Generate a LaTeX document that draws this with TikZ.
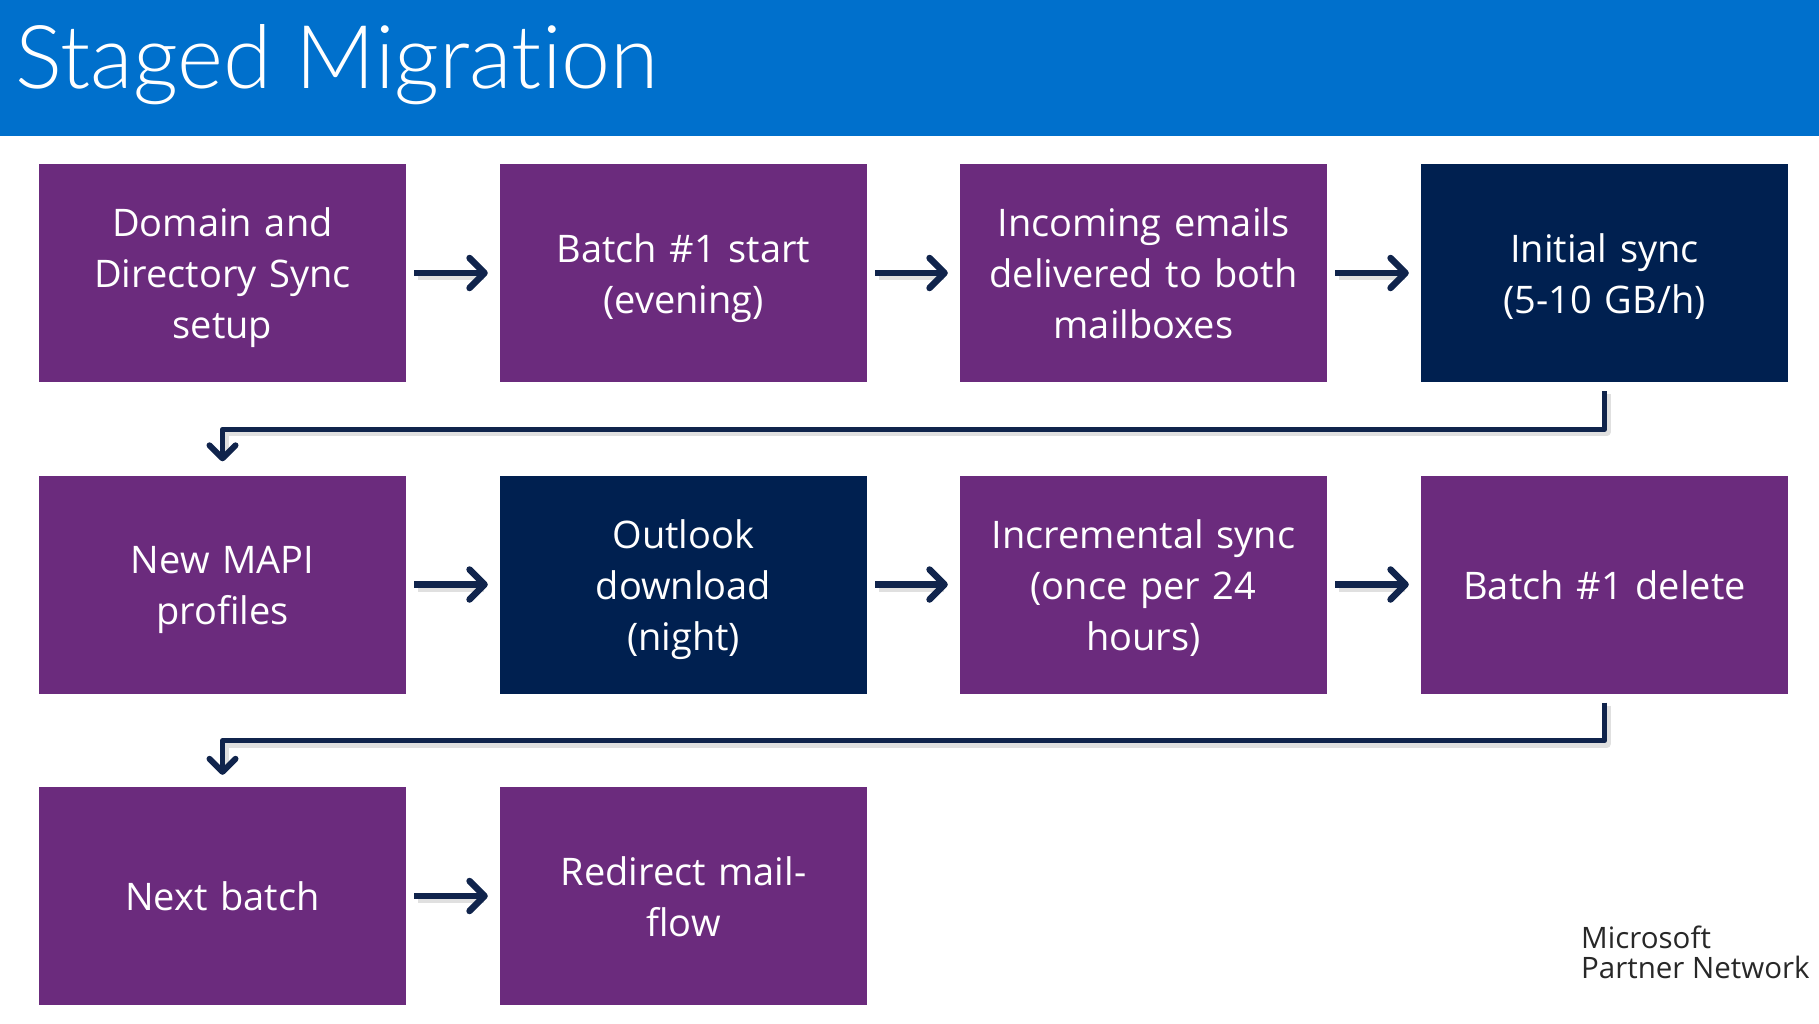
\documentclass[tikz,border=0pt]{standalone}
\usepackage{fontspec}
\setmainfont{Open Sans}
\newfontfamily\titlefont{Lato Light}[Ligatures=NoCommon]
\usetikzlibrary{arrows.meta,positioning}
\definecolor{hdrblue}{RGB}{0,112,204}
\definecolor{msPurple}{RGB}{107,43,125}
\definecolor{msNavy}{RGB}{0,32,80}
\definecolor{arrowNavy}{RGB}{16,36,76}
\definecolor{logoGray}{RGB}{40,40,40}
\tikzset{
  stepbox/.style={fill=msPurple, minimum width=367pt, minimum height=218pt, inner sep=0pt},
  darkbox/.style={stepbox, fill=msNavy},
  boxtext/.style={text=white, align=center, inner sep=0pt, font=\fontsize{38}{51}\selectfont, text width=350pt},
  flowarrow/.style={draw=arrowNavy, line width=6.5pt, -{Straight Barb[round,length=15pt,width=30pt,line width=6.5pt]}},
  elbowarrow/.style={draw=arrowNavy, line width=5pt, line join=round, -{Straight Barb[round,length=13pt,width=26pt,line width=6pt]}},
  shadowline/.style={draw=black, opacity=0.12, line width=8pt, line join=round},
}
\begin{document}
\begin{tikzpicture}[x=1pt,y=-1pt]
\useasboundingbox (0,0) rectangle (1819,1023);
\fill[white] (0,0) rectangle (1819,1023);
\fill[hdrblue] (0,0) rectangle (1819,136);
\node[anchor=base west, text=white, font=\titlefont\fontsize{88}{100}\selectfont, inner sep=0pt] (title) at (15,88) {Staged Migration};

\node[stepbox] (dom) at (222.5,273) {};
\node[stepbox] (b1s) at (683.5,273) {};
\node[stepbox] (inc) at (1143.5,273) {};
\node[darkbox] (ini) at (1604.5,273) {};
\node[stepbox] (mapi) at (222.5,584.5) {};
\node[darkbox] (outl) at (683.5,584.5) {};
\node[stepbox] (incr) at (1143.5,584.5) {};
\node[stepbox] (del) at (1604.5,584.5) {};
\node[stepbox] (next) at (222.5,896) {};
\node[stepbox] (redir) at (683.5,896) {};

\node[boxtext] (tdom) at ([yshift=-4.3pt]dom.center) {\strut Domain and\\Directory Sync\\setup\strut};
\node[boxtext] (tb1s) at ([yshift=-4.3pt]b1s.center) {\strut Batch \#1 start\\(evening)\strut};
\node[boxtext] (tinc) at ([yshift=-4.3pt]inc.center) {\strut Incoming emails\\delivered to both\\mailboxes\strut};
\node[boxtext] (tini) at ([yshift=-4.3pt]ini.center) {\strut Initial sync\\(5-10 GB/h)\strut};
\node[boxtext] (tmapi) at ([yshift=-4.3pt]mapi.center) {\strut New MAPI\\profiles\strut};
\node[boxtext] (toutl) at ([yshift=-4.3pt]outl.center) {\strut Outlook\\download\\(night)\strut};
\node[boxtext] (tincr) at ([yshift=-4.3pt]incr.center) {\strut Incremental sync\\(once per 24\\hours)\strut};
\node[boxtext] (tdel) at ([yshift=-4.3pt]del.center) {\strut Batch \#1 delete\strut};
\node[boxtext] (tnext) at ([yshift=-4.3pt]next.center) {\strut Next batch\strut};
\node[boxtext] (tredir) at ([yshift=-4.3pt]redir.center) {\strut Redirect mail-\\flow\strut};

\node[anchor=north west, align=left, text=logoGray, inner sep=0pt,
      font=\fontsize{29.5}{30}\selectfont] (logo) at (1581,926) {Microsoft\\Partner Network};

\foreach \a/\b in {dom/b1s, b1s/inc, inc/ini, mapi/outl, outl/incr, incr/del, next/redir}{
  \draw[shadowline, shorten <=10pt, shorten >=18pt, transform canvas={xshift=2pt,yshift=-3pt}] (\a.east) -- (\b.west);
  \draw[flowarrow, shorten <=8pt, shorten >=12pt] (\a.east) -- (\b.west);
}
\draw[shadowline, transform canvas={xshift=2pt,yshift=-3pt}] ([yshift=-9pt]ini.south) -- ++(0,38) -| ([yshift=24pt]mapi.north);
\draw[shadowline, transform canvas={xshift=2pt,yshift=-3pt}] ([yshift=-9pt]del.south) -- ++(0,38) -| ([yshift=22pt]next.north);
\draw[elbowarrow] ([yshift=-9pt]ini.south) -- ++(0,38) -| ([yshift=14pt]mapi.north);
\draw[elbowarrow] ([yshift=-9pt]del.south) -- ++(0,38) -| ([yshift=12pt]next.north);
\end{tikzpicture}
\end{document}
